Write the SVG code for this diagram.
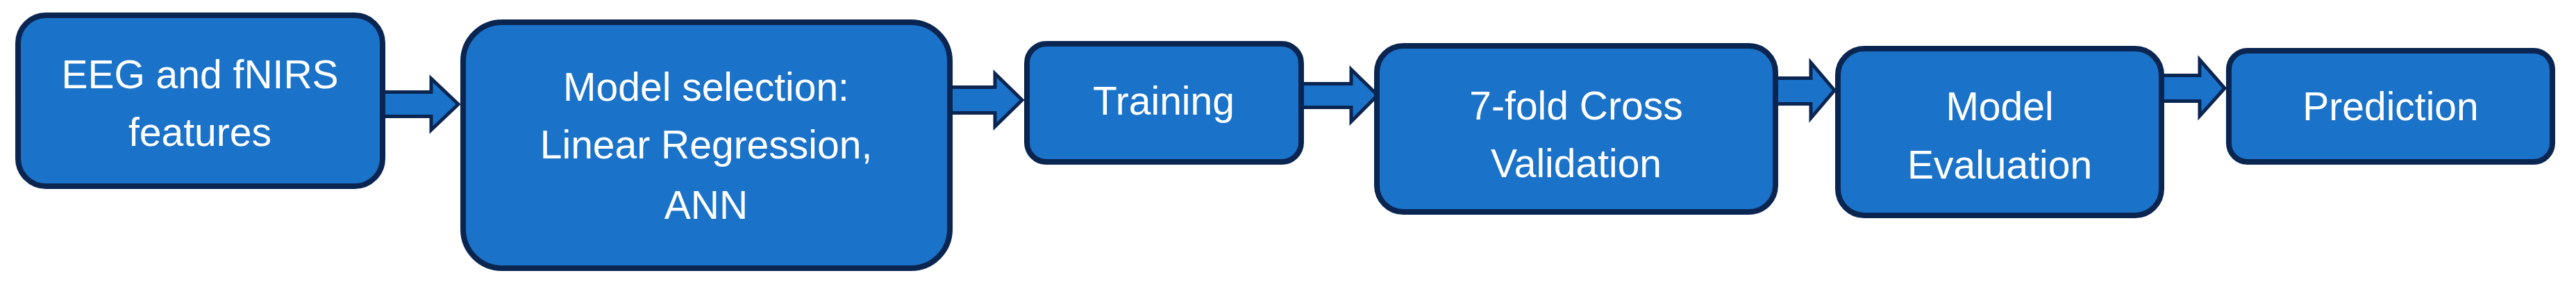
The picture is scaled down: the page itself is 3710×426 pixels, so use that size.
<svg xmlns="http://www.w3.org/2000/svg" width="3710" height="426" viewBox="0 0 3710 426">
<style>
.node{fill:#1a72c9;stroke:#0a2550;stroke-width:8}
.arrow{fill:#1a72c9;stroke:#0a2550;stroke-width:5;stroke-linejoin:miter}
.lbl{font-family:"Liberation Sans",Arial,sans-serif;font-size:57px;fill:#ffffff;text-anchor:middle}
</style>
<rect width="3710" height="426" fill="#ffffff"/>
<g id="connectors">
<polygon class="arrow" points="545,132.5 621,132.5 621,113 660,150 621,187 621,167.5 545,167.5"/>
<polygon class="arrow" points="1362,125.5 1433,125.5 1433,106 1472,144 1433,182 1433,162.5 1362,162.5"/>
<polygon class="arrow" points="1868,120.5 1946,120.5 1946,100 1984,137 1946,175 1946,154.5 1868,154.5"/>
<polygon class="arrow" points="2551,112.5 2608,112.5 2608,90 2642,130 2608,170 2608,149.5 2551,149.5"/>
<polygon class="arrow" points="3107,108.5 3168,108.5 3168,86 3204,127 3168,167 3168,145.5 3107,145.5"/>
</g>
<g id="n1">
<rect class="node" x="26" y="22" width="525" height="246" rx="40" ry="40"/>
<text class="lbl" x="288" y="127">EEG and fNIRS</text>
<text class="lbl" x="288" y="210">features</text>
</g>
<g id="n2">
<rect class="node" x="667" y="32" width="701" height="354" rx="56" ry="56"/>
<text class="lbl" x="1017" y="145">Model selection:</text>
<text class="lbl" x="1017" y="228">Linear Regression,</text>
<text class="lbl" x="1017" y="315">ANN</text>
</g>
<g id="n3">
<rect class="node" x="1479" y="63" width="395" height="170" rx="28" ry="28"/>
<text class="lbl" x="1676" y="165">Training</text>
</g>
<g id="n4">
<rect class="node" x="1983" y="66" width="574" height="239" rx="38" ry="38"/>
<text class="lbl" x="2270" y="172">7-fold Cross</text>
<text class="lbl" x="2270" y="255">Validation</text>
</g>
<g id="n5">
<rect class="node" x="2647" y="70" width="466" height="240" rx="38" ry="38"/>
<text class="lbl" x="2880" y="173">Model</text>
<text class="lbl" x="2880" y="257">Evaluation</text>
</g>
<g id="n6">
<rect class="node" x="3210" y="73" width="466" height="160" rx="27" ry="27"/>
<text class="lbl" x="3443" y="173">Prediction</text>
</g>
</svg>
